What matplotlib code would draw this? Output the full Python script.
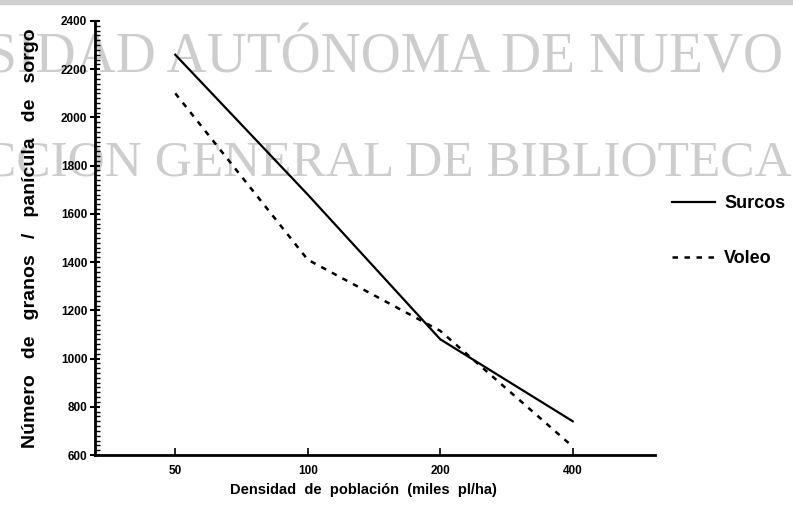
import matplotlib.pyplot as plt
from matplotlib.ticker import MultipleLocator
from matplotlib.patches import Rectangle

# --- Data ---
densidad = ["50", "100", "200", "400"]
surcos = [2260, 1680, 1080, 740]
voleo = [2100, 1410, 1115, 635]

plt.rcParams['font.family'] = ['Liberation Sans', 'DejaVu Sans']

fig = plt.figure(figsize=(7.93, 5.17), dpi=100)
ax = fig.add_axes([0.1198, 0.1199, 0.706, 0.8395])
ax.set_facecolor('none')

# faint watermark behind the chart
fig.patches.append(Rectangle((0, 0.992), 1, 0.008, transform=fig.transFigure,
                             color='#d0d0d0', zorder=-2))
fig.text(783 / 793, 0.859, "SIDAD AUTÓNOMA DE NUEVO", family='Liberation Serif',
         fontsize=40, color='#cdcdcd', ha='right', va='baseline', zorder=-1)
fig.text(792 / 793, 0.6615, "CCION GENERAL DE BIBLIOTECA", family='Liberation Serif',
         fontsize=37, color='#cdcdcd', ha='right', va='baseline', zorder=-1)

x = list(range(1, len(densidad) + 1))
ax.plot(x, surcos, color='black', linewidth=1.6, label='Surcos')
ax.plot(x, voleo, color='black', linewidth=1.8, linestyle=(0, (2.2, 2.6)), label='Voleo')

ax.set_xlim(0.394, 4.62)
ax.set_ylim(600, 2400)
ax.set_xticks(x)
ax.set_xticklabels(densidad)
ax.yaxis.set_major_locator(MultipleLocator(200))
ax.yaxis.set_minor_locator(MultipleLocator(20))

for side in ['top', 'right']:
    ax.spines[side].set_visible(False)
for side in ['left', 'bottom']:
    ax.spines[side].set_linewidth(2)

ax.tick_params(axis='y', which='major', direction='inout', length=7, width=1.5,
               labelsize=8.5, pad=2)
ax.tick_params(axis='y', which='minor', direction='in', length=3.5, width=1)
ax.tick_params(axis='x', which='major', direction='in', length=5, width=1.2,
               labelsize=8.5, pad=7)
for lab in ax.get_xticklabels() + ax.get_yticklabels():
    lab.set_fontweight('bold')

fig.text(363 / 793, 1 - 490 / 517, "Densidad  de  población  (miles  pl/ha)",
         fontsize=10.5, fontweight='bold', ha='center', va='center')
ax.set_ylabel("Número   de   granos   /   panícula   de   sorgo", fontsize=14,
              fontweight='bold', labelpad=16)

ax.legend(loc='upper left', bbox_to_anchor=(672 / 793, 1 - 195 / 517),
          bbox_transform=fig.transFigure, frameon=False,
          prop={'weight': 'bold', 'size': 13}, handlelength=2.4,
          handletextpad=0.5, labelspacing=2.1, borderpad=0, borderaxespad=0)

fig.savefig("out.png", dpi=100)
